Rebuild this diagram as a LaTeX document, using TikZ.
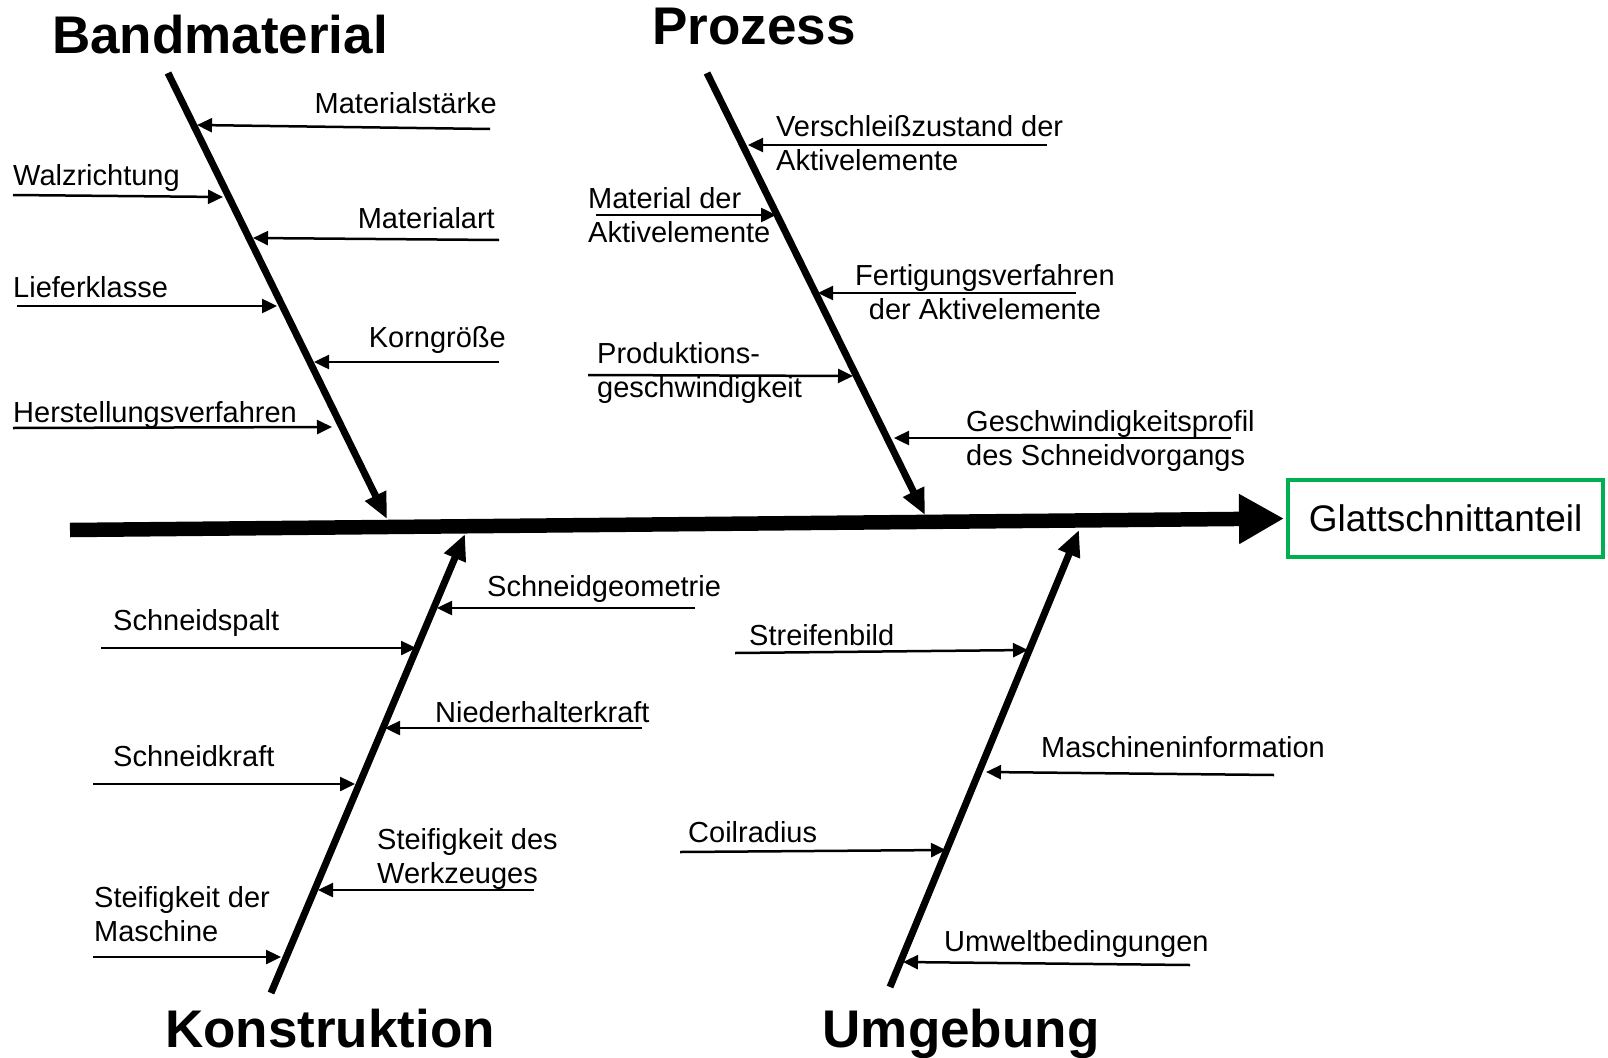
\documentclass[tikz,border=0pt]{standalone}
\usepackage{fontspec}
\setmainfont{Liberation Sans}
\usepackage{xcolor}
\definecolor{fbGreen}{RGB}{0,176,80}
\usetikzlibrary{positioning,arrows.meta,calc}

\begin{document}
\begin{tikzpicture}[x=1pt,y=-1pt,
  spine/.style={line width=14.5pt,-{Triangle[length=45pt,width=47pt]},shorten >=2pt},
  bone/.style={line width=7pt,-{Triangle[length=26pt,width=22pt]}},
  cause/.style={line width=2.5pt,-{Triangle[length=15pt,width=14pt]}},
  head/.style={font=\fontsize{53}{60}\selectfont\bfseries,inner sep=0pt,anchor=base},
  lbl/.style={font=\fontsize{29}{34}\selectfont,inner sep=0pt,align=left,anchor=base west},
  effect/.style={draw=fbGreen,line width=4pt,minimum width=315pt,minimum height=77pt,
    inner sep=0pt,font=\fontsize{37}{44}\selectfont}]
  \useasboundingbox (0,0) rectangle (1608,1057);

  \node[effect,anchor=west] (eff) at (1286,518.5) {Glattschnittanteil};
  \coordinate (sp0) at (70,530);
  \draw[spine] (sp0) -- (eff.west);

  \coordinate (bm0) at (168,73);  \coordinate (bm1) at (387,519);
  \coordinate (pz0) at (707,73);  \coordinate (pz1) at (925,515);
  \coordinate (ko0) at (271,993); \coordinate (ko1) at (465,534);
  \coordinate (ug0) at (890,987); \coordinate (ug1) at (1079,530);
  \draw[bone] (bm0) -- (bm1);
  \draw[bone] (pz0) -- (pz1);
  \draw[bone] (ko0) -- (ko1);
  \draw[bone] (ug0) -- (ug1);

  \node[head] (band) at (220,53) {Bandmaterial};
  \node[head] (proz) at (754,45) {Prozess};
  \node[head] (kons) at (330,1047) {Konstruktion};
  \node[head] (umg) at (961,1047) {Umgebung};

  % Bandmaterial
  \node[lbl,anchor=base east] (mstk) at (497,113) {Materialstärke};
  \coordinate (mstk0) at (490,129); \coordinate (mstk1) at (197,125);
  \node[lbl] (walz) at (13,185) {Walzrichtung};
  \coordinate (walz0) at (13,195); \coordinate (walz1) at (223,197);
  \node[lbl,anchor=base east] (mart) at (495,228) {Materialart};
  \coordinate (mart0) at (499,240); \coordinate (mart1) at (253,238);
  \node[lbl] (lief) at (13,297) {Lieferklasse};
  \coordinate (lief0) at (17,306); \coordinate (lief1) at (277,306);
  \node[lbl,anchor=base east] (korn) at (506,347) {Korngröße};
  \coordinate (korn0) at (499,362); \coordinate (korn1) at (314,362);
  \node[lbl] (hers) at (13,422) {Herstellungsverfahren};
  \coordinate (hers0) at (13,428); \coordinate (hers1) at (332,427);
  \draw[cause] (mstk0) -- (mstk1);
  \draw[cause] (walz0) -- (walz1);
  \draw[cause] (mart0) -- (mart1);
  \draw[cause] (lief0) -- (lief1);
  \draw[cause] (korn0) -- (korn1);
  \draw[cause] (hers0) -- (hers1);

  % Prozess
  \node[lbl] (vers) at (776,170) {Verschleißzustand der\\Aktivelemente};
  \coordinate (vers0) at (1047,145); \coordinate (vers1) at (748,145);
  \node[lbl] (matd) at (588,242) {Material der\\Aktivelemente};
  \coordinate (matd0) at (596,215); \coordinate (matd1) at (776,215);
  \node[lbl,align=center,anchor=base] (fert) at (985,319) {Fertigungsverfahren\\der Aktivelemente};
  \coordinate (fert0) at (1076,293); \coordinate (fert1) at (818,293);
  \node[lbl] (prod) at (597,397) {Produktions-\\geschwindigkeit};
  \coordinate (prod0) at (588,375); \coordinate (prod1) at (853,376);
  \node[lbl] (gesp) at (966,465) {Geschwindigkeitsprofil\\des Schneidvorgangs};
  \coordinate (gesp0) at (1231,438); \coordinate (gesp1) at (894,438);
  \draw[cause] (vers0) -- (vers1);
  \draw[cause] (matd0) -- (matd1);
  \draw[cause] (fert0) -- (fert1);
  \draw[cause] (prod0) -- (prod1);
  \draw[cause] (gesp0) -- (gesp1);

  % Konstruktion
  \node[lbl] (sgeo) at (487,596) {Schneidgeometrie};
  \coordinate (sgeo0) at (695,608); \coordinate (sgeo1) at (437,608);
  \node[lbl] (sspa) at (113,630) {Schneidspalt};
  \coordinate (sspa0) at (101,648); \coordinate (sspa1) at (416,648);
  \node[lbl] (nied) at (435,722) {Niederhalterkraft};
  \coordinate (nied0) at (642,728); \coordinate (nied1) at (385,728);
  \node[lbl] (skra) at (113,766) {Schneidkraft};
  \coordinate (skra0) at (93,784); \coordinate (skra1) at (355,784);
  \node[lbl] (stwz) at (377,883) {Steifigkeit des\\Werkzeuges};
  \coordinate (stwz0) at (534,890); \coordinate (stwz1) at (318,890);
  \node[lbl] (stma) at (94,941) {Steifigkeit der\\Maschine};
  \coordinate (stma0) at (93,957); \coordinate (stma1) at (281,957);
  \draw[cause] (sgeo0) -- (sgeo1);
  \draw[cause] (sspa0) -- (sspa1);
  \draw[cause] (nied0) -- (nied1);
  \draw[cause] (skra0) -- (skra1);
  \draw[cause] (stwz0) -- (stwz1);
  \draw[cause] (stma0) -- (stma1);

  % Umgebung
  \node[lbl] (stre) at (749,645) {Streifenbild};
  \coordinate (stre0) at (735,653); \coordinate (stre1) at (1028,650);
  \node[lbl] (mach) at (1041,757) {Maschineninformation};
  \coordinate (mach0) at (1274,775); \coordinate (mach1) at (986,772);
  \node[lbl] (coil) at (688,842) {Coilradius};
  \coordinate (coil0) at (680,852); \coordinate (coil1) at (946,850);
  \node[lbl] (umwe) at (944,951) {Umweltbedingungen};
  \coordinate (umwe0) at (1190,965); \coordinate (umwe1) at (903,962);
  \draw[cause] (stre0) -- (stre1);
  \draw[cause] (mach0) -- (mach1);
  \draw[cause] (coil0) -- (coil1);
  \draw[cause] (umwe0) -- (umwe1);
\end{tikzpicture}
\end{document}
